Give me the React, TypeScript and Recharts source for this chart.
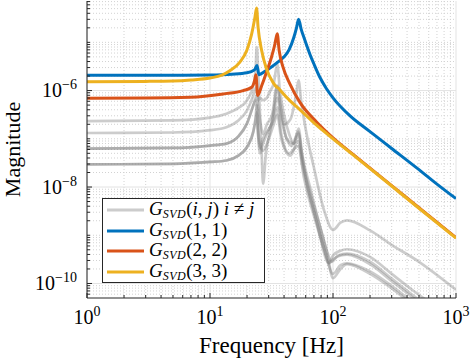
import React from 'react';
import { LineChart, Line, XAxis, YAxis, CartesianGrid, Legend } from 'recharts';

// G_SVD(1,1)
const freq11 = [1, 3, 6, 10, 15, 20, 23, 24.1, 25, 28, 32, 36, 40, 44, 48, 50.5, 52.5, 55, 59, 65, 70, 78, 88, 100, 137, 200, 300, 500, 700, 1000];
const mag11 = [2.07e-6, 2.07e-6, 2.09e-6, 2.11e-6, 2.19e-6, 2.34e-6, 2.69e-6, 3.31e-6, 2.14e-6, 2.51e-6, 3.16e-6, 3.98e-6, 5.01e-6, 7.08e-6, 1.26e-5, 2.0e-5, 3.02e-5, 1.91e-5, 1.12e-5, 5.62e-6, 3.55e-6, 1.91e-6, 1.12e-6, 7.08e-7, 3.02e-7, 1.41e-7, 6.31e-8, 2.29e-8, 1.15e-8, 5.75e-9];

// G_SVD(2,2)
const freq22 = [1, 3, 6.9, 12.8, 18.6, 21.8, 23.2, 23.6, 24.4, 26.3, 28.8, 31.6, 33.7, 35.2, 36.5, 39.3, 44.6, 54, 73.5, 100, 150, 300, 500, 1000];
const mag22 = [6.95e-7, 7.0e-7, 7.24e-7, 8.51e-7, 1.0e-6, 1.17e-6, 1.74e-6, 2.14e-6, 7.94e-7, 1.26e-6, 2.4e-6, 4.9e-6, 9.12e-6, 1.51e-5, 6.76e-6, 3.02e-6, 1.38e-6, 5.62e-7, 2.24e-7, 1.05e-7, 4.47e-8, 1.07e-8, 3.72e-9, 8.91e-10];

// G_SVD(3,3)
const freq33 = [1, 3, 5, 7, 10, 12.5, 14.5, 17.5, 19.9, 21.8, 23.2, 23.9, 24.6, 26.3, 28.8, 32.5, 35, 36, 38, 44.6, 54, 73.5, 100, 150, 300, 500, 1000];
const mag33 = [1.53e-6, 1.55e-6, 1.58e-6, 1.66e-6, 1.82e-6, 2.09e-6, 2.57e-6, 3.89e-6, 6.76e-6, 1.48e-5, 3.31e-5, 5.13e-5, 2.04e-5, 6.76e-6, 2.82e-6, 1.48e-6, 1.17e-6, 1.12e-6, 9.55e-7, 6.17e-7, 3.98e-7, 1.91e-7, 1.0e-7, 4.37e-8, 1.05e-8, 3.63e-9, 8.71e-10];

// off-diagonal terms G_SVD(i,j), i != j
const freqOff1 = [1, 5, 10, 13.6, 17, 20, 22.5, 23.5, 24, 24.6, 25.5, 26.3, 27, 28.5, 30.5, 33, 35.2, 37, 40, 45, 50, 52.5, 55, 60, 70, 85, 100, 115, 130, 200, 300, 500, 1000];
const magOff1 = [2.32e-7, 2.4e-7, 2.75e-7, 3.31e-7, 4.37e-7, 6.31e-7, 1.26e-6, 2.82e-6, 7.94e-6, 2.51e-6, 3.16e-7, 5.01e-8, 1.17e-8, 5.01e-8, 1.26e-7, 3.98e-7, 1.26e-6, 5.01e-7, 2.0e-7, 2.51e-7, 7.94e-7, 1.62e-6, 6.31e-7, 1.58e-7, 2.51e-8, 3.16e-9, 1.29e-9, 1.82e-9, 2.04e-9, 1.26e-9, 6.31e-10, 2.82e-10, 7.41e-11];

const freqOff2 = [1, 5, 10, 13.6, 17, 20, 22.5, 23.5, 24, 24.6, 25.5, 27, 29, 31, 33, 35.2, 37, 40, 44, 48, 52.5, 56, 65, 80, 90, 97, 110, 130, 200, 300, 450, 700];
const magOff2 = [1.32e-7, 1.35e-7, 1.51e-7, 1.74e-7, 2.4e-7, 3.89e-7, 7.94e-7, 1.12e-6, 1.17e-6, 6.31e-7, 7.08e-7, 6.31e-7, 7.08e-7, 1.0e-6, 1.41e-6, 3.55e-6, 1.0e-6, 3.16e-7, 1.26e-7, 7.94e-8, 1.62e-7, 5.01e-8, 1.0e-8, 1.26e-9, 4.47e-10, 2.82e-10, 3.8e-10, 4.17e-10, 2.82e-10, 1.26e-10, 5.62e-11, 2.51e-11];

const freqOff3 = [1, 5, 10, 13.6, 17, 20, 22.5, 23.5, 24, 24.6, 25.5, 27, 29, 32, 35.2, 38, 42, 46, 50, 52.5, 55, 60, 75, 88, 92, 100, 115, 130, 200, 300, 450, 700];
const magOff3 = [6.24e-8, 6.46e-8, 7.24e-8, 7.94e-8, 1.12e-7, 2.09e-7, 4.9e-7, 6.31e-7, 4.57e-7, 1.26e-7, 5.01e-8, 7.94e-8, 1.26e-7, 2.24e-7, 7.08e-7, 2.51e-7, 1.0e-7, 7.08e-8, 1.12e-7, 1.41e-7, 6.31e-8, 1.58e-8, 1.58e-9, 3.16e-10, 2.63e-10, 3.8e-10, 4.79e-10, 5.13e-10, 3.55e-10, 1.58e-10, 7.08e-11, 3.16e-11];

const freqOff4 = [1, 5, 10, 13.6, 17, 20, 22.5, 23.5, 24, 24.6, 25.5, 27, 30, 33, 35.2, 38, 45, 52, 57, 70, 85, 93, 100, 115, 130, 200, 300, 450, 700];
const magOff4 = [2.95e-8, 3.02e-8, 3.31e-8, 3.55e-8, 4.47e-8, 6.76e-8, 1.41e-7, 2.51e-7, 3.55e-7, 1.58e-7, 7.94e-8, 5.62e-8, 1.0e-7, 2.0e-7, 3.16e-7, 1.0e-7, 4.47e-8, 8.91e-8, 2.51e-8, 3.16e-9, 5.01e-10, 2.63e-10, 3.16e-10, 3.8e-10, 3.98e-10, 2.51e-10, 1.12e-10, 5.01e-11, 2.24e-11];

const freqOff5 = [1, 5, 10, 13.6, 17, 20, 22.5, 23.5, 24, 24.6, 25.5, 27, 29, 32, 35.2, 38, 42, 48, 52.5, 56, 65, 80, 90, 100, 115, 130, 200, 300, 450, 700];
const magOff5 = [6.24e-8, 6.46e-8, 7.24e-8, 7.94e-8, 1.12e-7, 2.09e-7, 5.01e-7, 7.08e-7, 7.94e-7, 5.01e-7, 2.51e-7, 1.26e-7, 2.0e-7, 3.16e-7, 1.26e-6, 3.98e-7, 1.0e-7, 7.94e-8, 1.26e-7, 3.98e-8, 7.94e-9, 1.26e-9, 3.98e-10, 1.29e-10, 2.0e-10, 2.51e-10, 1.58e-10, 7.94e-11, 3.55e-11, 1.58e-11];

const freqOff6 = [1, 5, 10, 13.6, 17, 20, 22.5, 23.5, 24, 24.6, 25.5, 27, 30, 33, 35.2, 38, 44, 52, 58, 70, 85, 100, 115, 130, 200, 300, 450, 700];
const magOff6 = [2.95e-8, 3.02e-8, 3.31e-8, 3.55e-8, 4.47e-8, 6.76e-8, 1.41e-7, 2.82e-7, 5.01e-7, 1.26e-7, 6.31e-8, 1.0e-7, 1.58e-7, 2.51e-7, 4.47e-7, 1.26e-7, 5.01e-8, 7.08e-8, 1.58e-8, 2.51e-9, 5.01e-10, 1.58e-10, 2.4e-10, 2.63e-10, 1.78e-10, 8.91e-11, 3.98e-11, 1.78e-11];

const xMajor = [1, 10, 100, 1000];
const yMajor = [1e-10, 1e-8, 1e-6];
const xDomain = [1, 1000];
const yDomain = [5e-11, 7.2e-5];

const mult = [1, 2, 3, 4, 5, 6, 7, 8, 9];
const xAll = [1, 10, 100].flatMap((d) => mult.map((k) => k * d)).concat([1000]);
const yAll = [1e-11, 1e-10, 1e-9, 1e-8, 1e-7, 1e-6, 1e-5]
  .flatMap((d) => mult.map((k) => k * d))
  .filter((v) => v >= yDomain[0] && v <= yDomain[1]);
const isMajor = (list: number[], v: number) => list.some((m) => Math.abs(v / m - 1) < 1e-6);
const xMinor = xAll.filter((v) => !isMajor(xMajor, v));
const yMinor = yAll.filter((v) => !isMajor(yMajor, v));

const pts = (f: number[], m: number[]) => f.map((x, i) => ({ f: x, m: m[i] }));

const offDiag = [
  pts(freqOff1, magOff1),
  pts(freqOff2, magOff2),
  pts(freqOff3, magOff3),
  pts(freqOff4, magOff4),
  pts(freqOff5, magOff5),
  pts(freqOff6, magOff6),
];

const BLUE = '#0072BD';
const ORANGE = '#D95319';
const YELLOW = '#EDB120';
const GRAY_LEGEND = '#cccccc';
const AXIS = '#262626';
const SERIF = '"Liberation Serif", "Times New Roman", serif';

const exp = (v: number) => String(Math.round(Math.log10(v))).replace('-', '\u2212');

function BottomTick(props: any) {
  const { x, y, payload } = props;
  const major = isMajor(xMajor, payload.value);
  return (
    <g>
      <line x1={x} x2={x} y1={y} y2={y - (major ? 5 : 3)} stroke={AXIS} />
      {major && (
        <text x={x} y={y + 26} textAnchor="middle" fontFamily={SERIF} fontSize={20} fill="#000">
          10<tspan dy={-8} fontSize={14}>{exp(payload.value)}</tspan>
        </text>
      )}
    </g>
  );
}

function TopTick(props: any) {
  const { x, y, payload } = props;
  const major = isMajor(xMajor, payload.value);
  return <line x1={x} x2={x} y1={y} y2={y + (major ? 5 : 3)} stroke={AXIS} />;
}

function LeftTick(props: any) {
  const { x, y, payload } = props;
  const major = isMajor(yMajor, payload.value);
  return (
    <g>
      <line x1={x} x2={x + (major ? 5 : 3)} y1={y} y2={y} stroke={AXIS} />
      {major && (
        <text x={x - 10} y={y + 6.5} textAnchor="end" fontFamily={SERIF} fontSize={20} fill="#000">
          10<tspan dy={-8} fontSize={14}>{exp(payload.value)}</tspan>
        </text>
      )}
    </g>
  );
}

function RightTick(props: any) {
  const { x, y, payload } = props;
  const major = isMajor(yMajor, payload.value);
  return <line x1={x} x2={x - (major ? 5 : 3)} y1={y} y2={y} stroke={AXIS} />;
}

const legendRows = [
  { color: GRAY_LEGEND, sub: 'SVD', args: ['i', 'j'], extra: true },
  { color: BLUE, sub: 'SVD', args: ['1', '1'], extra: false },
  { color: ORANGE, sub: 'SVD', args: ['2', '2'], extra: false },
  { color: YELLOW, sub: 'SVD', args: ['3', '3'], extra: false },
];

function LegendBox() {
  return (
    <div
      style={{
        width: 163,
        height: 85,
        boxSizing: 'border-box',
        border: `1px solid ${AXIS}`,
        background: '#fff',
        fontFamily: SERIF,
        fontSize: 19,
        color: '#000',
        paddingTop: 1,
      }}
    >
      {legendRows.map((r, i) => (
        <div key={i} style={{ display: 'flex', alignItems: 'center', height: 20.6, whiteSpace: 'nowrap' }}>
          <svg width={42} height={8} style={{ marginLeft: 4, flex: 'none' }}>
            <line x1={0} x2={37} y1={4} y2={4} stroke={r.color} strokeWidth={3} />
          </svg>
          <span>
            <i>G</i>
            <sub style={{ fontSize: 12, fontStyle: 'italic', verticalAlign: -3, letterSpacing: 0.5 }}>{r.sub}</sub>
            {'('}
            {r.extra ? <i>{r.args[0]}</i> : r.args[0]}
            {', '}
            {r.extra ? <i>{r.args[1]}</i> : r.args[1]}
            {')'}
            {r.extra && (
              <>
                {' '}
                <i>i</i> {'\u2260'} <i>j</i>
              </>
            )}
          </span>
        </div>
      ))}
    </div>
  );
}

export default function App() {
  return (
    <div style={{ position: 'absolute', left: 0, top: 0, background: '#fff' }}>
      <LineChart width={471} height={361} margin={{ top: 1, right: 15, bottom: 0, left: 0 }}>
        <CartesianGrid
          horizontalValues={yMinor}
          verticalValues={xMinor}
          stroke="#d2d2d2"
          strokeDasharray="1 2"
        />
        <CartesianGrid horizontalValues={yMajor} verticalValues={xMajor} stroke="#e3e3e3" />
        <XAxis
          dataKey="f"
          type="number"
          scale="log"
          domain={xDomain}
          allowDataOverflow
          ticks={xAll}
          interval={0}
          height={63}
          tickSize={0}
          tickMargin={0}
          tickLine={false}
          tick={BottomTick}
          axisLine={{ stroke: AXIS }}
          label={{ value: 'Frequency [Hz]', position: 'insideBottom', offset: 8, style: { fontFamily: SERIF, fontSize: 23, fill: '#000' } }}
        />
        <XAxis
          xAxisId="top"
          orientation="top"
          type="number"
          scale="log"
          domain={xDomain}
          allowDataOverflow
          ticks={xAll}
          interval={0}
          height={0}
          tickSize={0}
          tickMargin={0}
          tickLine={false}
          tick={TopTick}
          axisLine={{ stroke: AXIS }}
        />
        <YAxis
          dataKey="m"
          type="number"
          scale="log"
          domain={yDomain}
          allowDataOverflow
          ticks={yAll}
          interval={0}
          width={87}
          tickSize={0}
          tickMargin={0}
          tickLine={false}
          tick={LeftTick}
          axisLine={{ stroke: AXIS }}
          label={{ value: 'Magnitude', angle: -90, position: 'insideLeft', offset: 12, style: { fontFamily: SERIF, fontSize: 22, fill: '#000', textAnchor: 'middle' } }}
        />
        <YAxis
          yAxisId="right"
          orientation="right"
          type="number"
          scale="log"
          domain={yDomain}
          allowDataOverflow
          ticks={yAll}
          interval={0}
          width={0}
          tickSize={0}
          tickMargin={0}
          tickLine={false}
          tick={RightTick}
          axisLine={{ stroke: AXIS }}
        />
        {offDiag.map((d, i) => (
          <Line
            key={`off${i}`}
            data={d}
            dataKey="m"
            type="monotone"
            stroke="#808080"
            strokeOpacity={0.4}
            strokeWidth={2.7}
            dot={false}
            activeDot={false}
            legendType="none"
            isAnimationActive={false}
          />
        ))}
        <Line data={pts(freq11, mag11)} dataKey="m" name="G11" type="monotone" stroke={BLUE} strokeWidth={3} dot={false} activeDot={false} isAnimationActive={false} />
        <Line data={pts(freq22, mag22)} dataKey="m" name="G22" type="monotone" stroke={ORANGE} strokeWidth={3} dot={false} activeDot={false} isAnimationActive={false} />
        <Line data={pts(freq33, mag33)} dataKey="m" name="G33" type="monotone" stroke={YELLOW} strokeWidth={3} dot={false} activeDot={false} isAnimationActive={false} />
        <Legend
          layout="horizontal"
          align="center"
          verticalAlign="middle"
          content={() => <LegendBox />}
          wrapperStyle={{ left: 102, top: 198, width: 163, height: 85 }}
        />
      </LineChart>
    </div>
  );
}
